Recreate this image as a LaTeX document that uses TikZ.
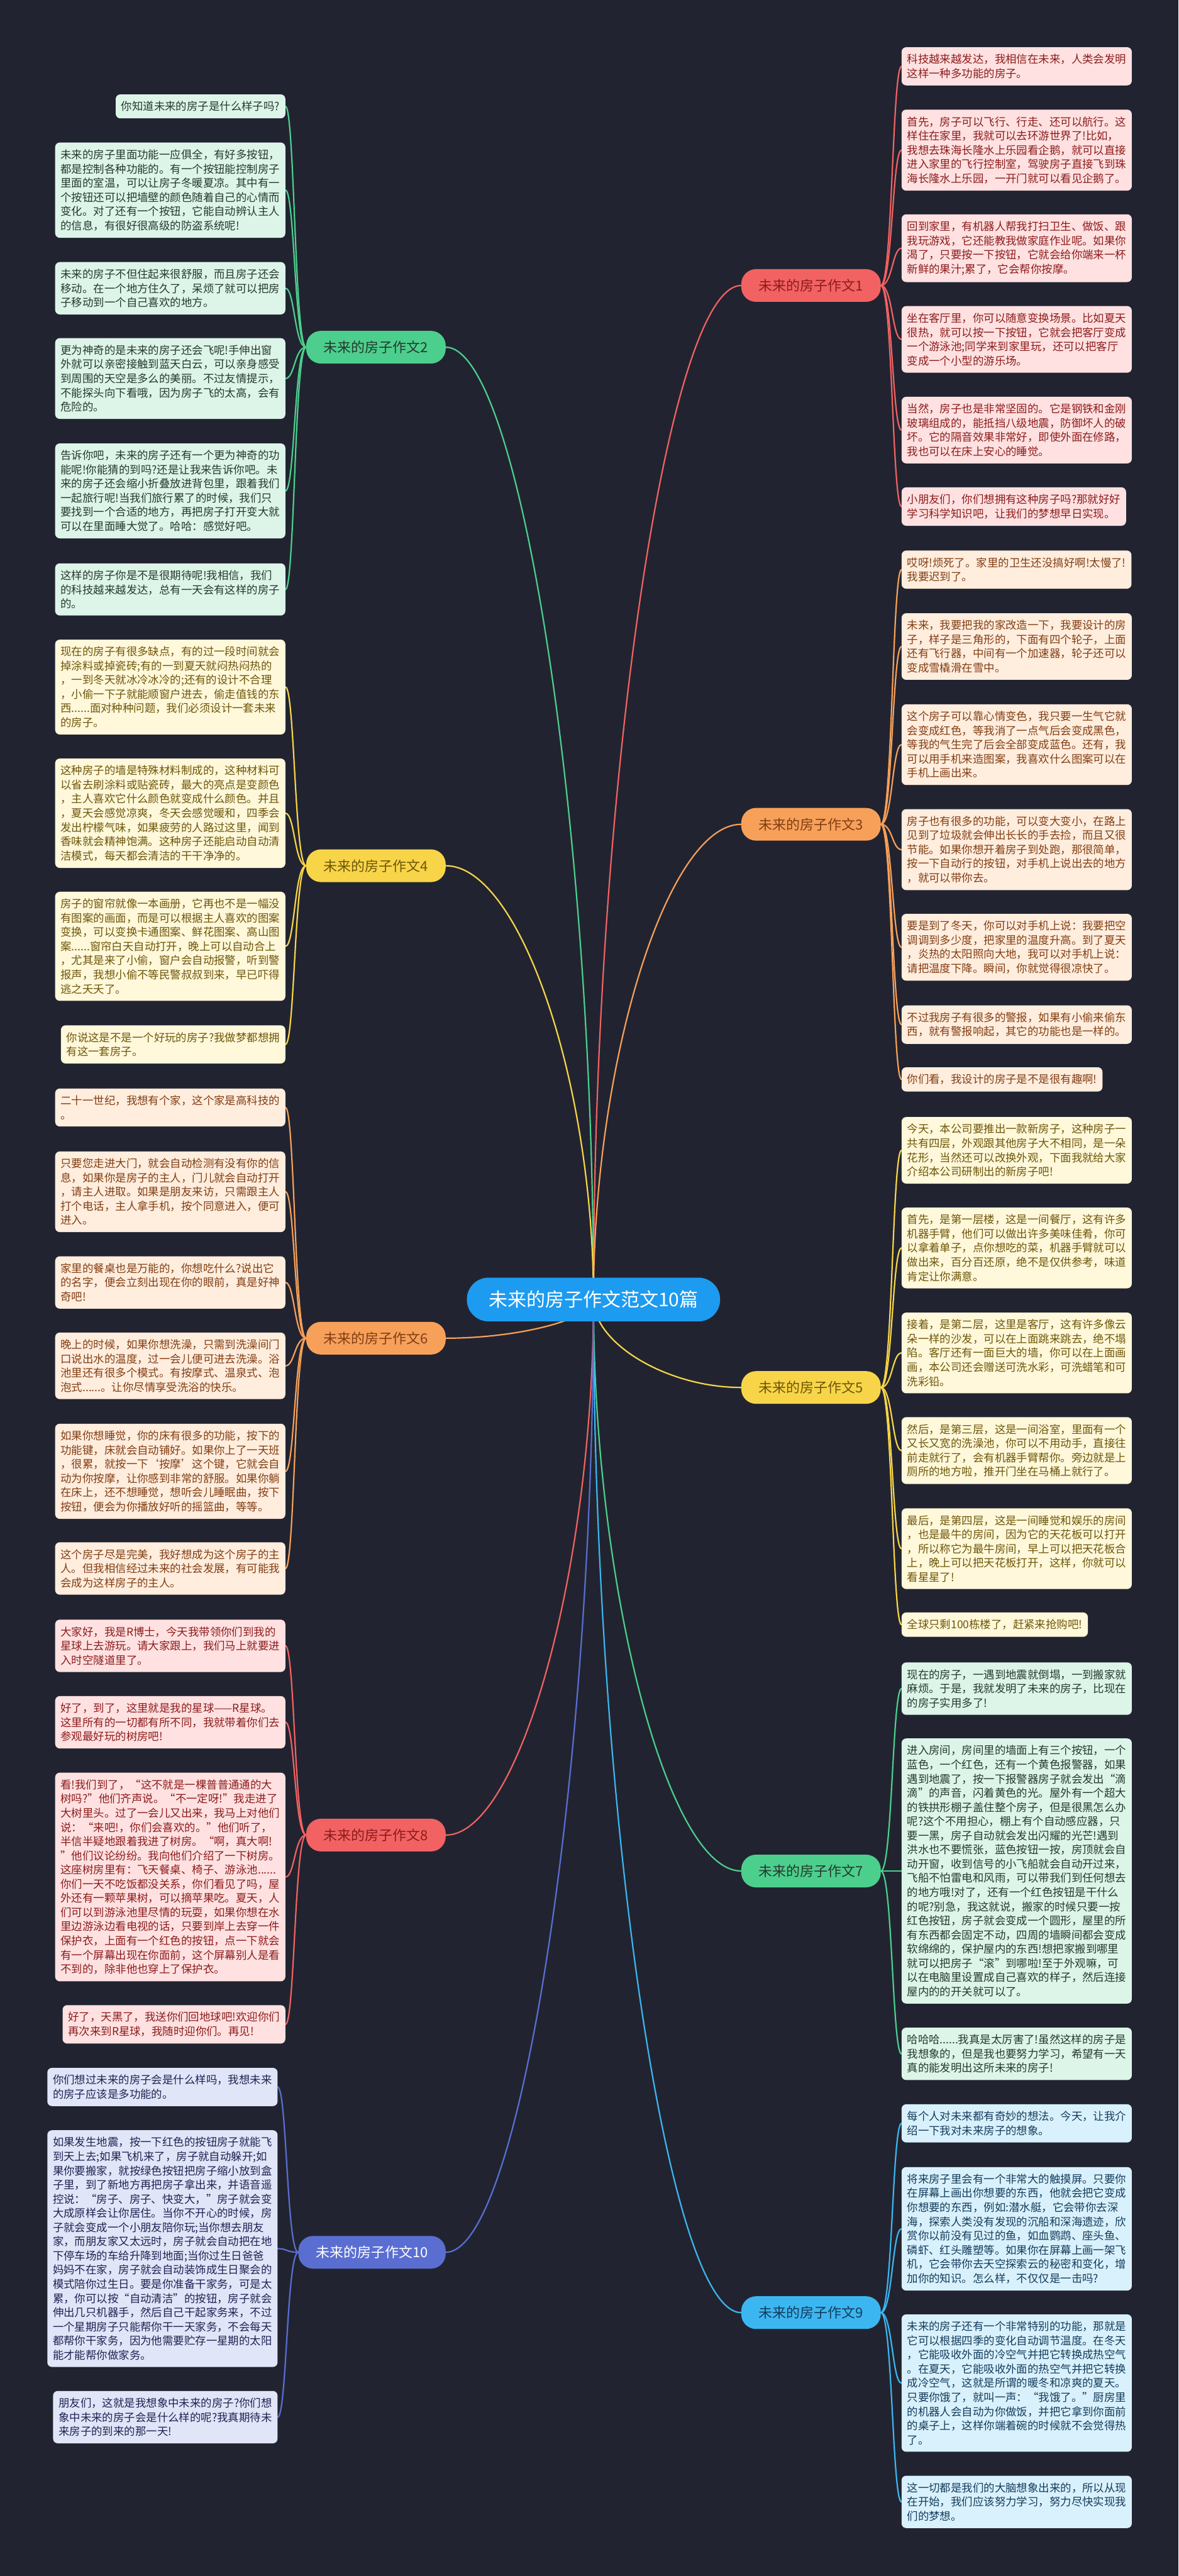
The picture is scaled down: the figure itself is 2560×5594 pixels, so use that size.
\documentclass[tikz,border=0pt]{standalone}
\usepackage{fontspec}
\setmainfont{Noto Sans CJK SC}
\usetikzlibrary{calc}
\pgfdeclarelayer{bglayer}
\pgfdeclarelayer{lines}
\pgfsetlayers{bglayer,lines,main}
\definecolor{bgcol}{RGB}{33,36,48}
\definecolor{rootcol}{RGB}{29,155,240}
\definecolor{gMain}{RGB}{76,207,141}
\definecolor{gLeaf}{RGB}{221,245,233}
\definecolor{gTxt}{RGB}{38,56,46}
\definecolor{rMain}{RGB}{242,98,98}
\definecolor{rLeaf}{RGB}{255,225,225}
\definecolor{rTxt}{RGB}{140,28,28}
\definecolor{oMain}{RGB}{247,160,90}
\definecolor{oLeaf}{RGB}{255,237,222}
\definecolor{oTxt}{RGB}{130,62,18}
\definecolor{yMain}{RGB}{248,213,72}
\definecolor{yLeaf}{RGB}{255,248,218}
\definecolor{yTxt}{RGB}{110,86,10}
\definecolor{cMain}{RGB}{60,182,240}
\definecolor{cLeaf}{RGB}{217,241,252}
\definecolor{cTxt}{RGB}{20,60,92}
\definecolor{iMain}{RGB}{90,110,210}
\definecolor{iLeaf}{RGB}{225,229,248}
\definecolor{iTxt}{RGB}{30,36,82}
\tikzset{
  leaf/.style={rounded corners=10pt, inner xsep=12pt, inner ysep=15pt, align=left, font=\fontsize{23.8}{30.8}\selectfont},
  gleaf/.style={leaf, fill=gLeaf, text=gTxt},
  rleaf/.style={leaf, fill=rLeaf, text=rTxt},
  oleaf/.style={leaf, fill=oLeaf, text=oTxt},
  yleaf/.style={leaf, fill=yLeaf, text=yTxt},
  cleaf/.style={leaf, fill=cLeaf, text=cTxt},
  ileaf/.style={leaf, fill=iLeaf, text=iTxt},
  lab/.style={rounded corners=32pt, minimum width=303pt, minimum height=71pt, inner sep=0pt, font=\fontsize{30}{36}\selectfont},
  rootnode/.style={fill=rootcol, text=white, rounded corners=47pt, minimum width=550pt, minimum height=95pt, inner sep=0pt, font=\fontsize{41}{48}\selectfont},
  conn/.style={line width=3pt, line cap=round},
}
\newcommand\LeafL[3]{\draw[conn,#1] (#2.west) .. controls ([xshift=-25pt]#2.west) and ([xshift=20pt]#3.east) .. (#3.east);}
\newcommand\LeafR[3]{\draw[conn,#1] (#2.east) .. controls ([xshift=25pt]#2.east) and ([xshift=-20pt]#3.west) .. (#3.west);}
\newcommand\MainC[2]{\draw[conn,#1] (root.center) .. controls ($(root.center)!0.5!(root.center |- #2)$) and ($(#2)!0.5!(#2 -| root.center)$) .. (#2);}
\begin{document}
\begin{tikzpicture}[x=1pt,y=-1pt]
\useasboundingbox (0,0) rectangle (2560,5594);
\begin{pgfonlayer}{bglayer}
\fill[bgcol] (0,0) rectangle (2560,5594);
\end{pgfonlayer}

\node[rootnode] (root) at (1289,2822) {未来的房子作文范文10篇};

% branch labels
\node[lab, fill=rMain, text=rTxt] (b1) at (1761.5,620) {未来的房子作文1};
\node[lab, fill=gMain, text=gTxt] (b2) at (816.5,754) {未来的房子作文2};
\node[lab, fill=oMain, text=oTxt] (b3) at (1761.5,1790) {未来的房子作文3};
\node[lab, fill=yMain, text=yTxt] (b4) at (816.5,1880) {未来的房子作文4};
\node[lab, fill=yMain, text=yTxt] (b5) at (1761.5,3013) {未来的房子作文5};
\node[lab, fill=oMain, text=oTxt] (b6) at (816.5,2906) {未来的房子作文6};
\node[lab, fill=gMain, text=gTxt] (b7) at (1761.5,4063) {未来的房子作文7};
\node[lab, fill=rMain, text=rTxt] (b8) at (816.5,3985) {未来的房子作文8};
\node[lab, fill=cMain, text=cTxt] (b9) at (1761.5,5022) {未来的房子作文9};
\node[lab, fill=iMain, text=white, minimum width=320pt] (b10) at (808,4891) {未来的房子作文10};

% ---------- branch 2 (left, green)
\node[gleaf, anchor=east] (l2a) at (620,231) {你知道未来的房子是什么样子吗?};
\node[gleaf, anchor=east] (l2b) at (620,413) {未来的房子里面功能一应俱全，有好多按钮，\\都是控制各种功能的。有一个按钮能控制房子\\里面的室温，可以让房子冬暖夏凉。其中有一\\个按钮还可以把墙壁的颜色随着自己的心情而\\变化。对了还有一个按钮，它能自动辨认主人\\的信息，有很好很高级的防盗系统呢!};
\node[gleaf, anchor=east] (l2c) at (620,626) {未来的房子不但住起来很舒服，而且房子还会\\移动。在一个地方住久了，呆烦了就可以把房\\子移动到一个自己喜欢的地方。};
\node[gleaf, anchor=east] (l2d) at (620,822) {更为神奇的是未来的房子还会飞呢!手伸出窗\\外就可以亲密接触到蓝天白云，可以亲身感受\\到周围的天空是多么的美丽。不过友情提示，\\不能探头向下看哦，因为房子飞的太高，会有\\危险的。};
\node[gleaf, anchor=east] (l2e) at (620,1066) {告诉你吧，未来的房子还有一个更为神奇的功\\能呢!你能猜的到吗?还是让我来告诉你吧。未\\来的房子还会缩小折叠放进背包里，跟着我们\\一起旅行呢!当我们旅行累了的时候，我们只\\要找到一个合适的地方，再把房子打开变大就\\可以在里面睡大觉了。哈哈：感觉好吧。};
\node[gleaf, anchor=east] (l2f) at (620,1280) {这样的房子你是不是很期待呢!我相信，我们\\的科技越来越发达，总有一天会有这样的房子\\的。};

% ---------- branch 4 (left, yellow)
\node[yleaf, anchor=east] (l4a) at (620,1492) {现在的房子有很多缺点，有的过一段时间就会\\掉涂料或掉瓷砖;有的一到夏天就闷热闷热的\\，一到冬天就冰冷冰冷的;还有的设计不合理\\，小偷一下子就能顺窗户进去，偷走值钱的东\\西......面对种种问题，我们必须设计一套未来\\的房子。};
\node[yleaf, anchor=east] (l4b) at (620,1766) {这种房子的墙是特殊材料制成的，这种材料可\\以省去刷涂料或贴瓷砖，最大的亮点是变颜色\\，主人喜欢它什么颜色就变成什么颜色。并且\\，夏天会感觉凉爽，冬天会感觉暖和，四季会\\发出柠檬气味，如果疲劳的人路过这里，闻到\\香味就会精神饱满。这种房子还能启动自动清\\洁模式，每天都会清洁的干干净净的。};
\node[yleaf, anchor=east] (l4c) at (620,2055) {房子的窗帘就像一本画册，它再也不是一幅没\\有图案的画面，而是可以根据主人喜欢的图案\\变换，可以变换卡通图案、鲜花图案、高山图\\案......窗帘白天自动打开，晚上可以自动合上\\，尤其是来了小偷，窗户会自动报警，听到警\\报声，我想小偷不等民警叔叔到来，早已吓得\\逃之夭夭了。};
\node[yleaf, anchor=east] (l4d) at (620,2268) {你说这是不是一个好玩的房子?我做梦都想拥\\有这一套房子。};

% ---------- branch 6 (left, orange)
\node[oleaf, anchor=east] (l6a) at (620,2405) {二十一世纪，我想有个家，这个家是高科技的\\。};
\node[oleaf, anchor=east] (l6b) at (620,2588) {只要您走进大门，就会自动检测有没有你的信\\息，如果你是房子的主人，门儿就会自动打开\\，请主人进取。如果是朋友来访，只需跟主人\\打个电话，主人拿手机，按个同意进入，便可\\进入。};
\node[oleaf, anchor=east] (l6c) at (620,2785) {家里的餐桌也是万能的，你想吃什么?说出它\\的名字，便会立刻出现在你的眼前，真是好神\\奇吧!};
\node[oleaf, anchor=east] (l6d) at (620,2966) {晚上的时候，如果你想洗澡，只需到洗澡间门\\口说出水的温度，过一会儿便可进去洗澡。浴\\池里还有很多个模式。有按摩式、温泉式、泡\\泡式......。让你尽情享受洗浴的快乐。};
\node[oleaf, anchor=east] (l6e) at (620,3195) {如果你想睡觉，你的床有很多的功能，按下的\\功能键，床就会自动铺好。如果你上了一天班\\，很累，就按一下‘按摩’这个键，它就会自\\动为你按摩，让你感到非常的舒服。如果你躺\\在床上，还不想睡觉，想听会儿睡眠曲，按下\\按钮，便会为你播放好听的摇篮曲，等等。};
\node[oleaf, anchor=east] (l6f) at (620,3406) {这个房子尽是完美，我好想成为这个房子的主\\人。但我相信经过未来的社会发展，有可能我\\会成为这样房子的主人。};

% ---------- branch 8 (left, red)
\node[rleaf, anchor=east] (l8a) at (620,3574) {大家好，我是R博士，今天我带领你们到我的\\星球上去游玩。请大家跟上，我们马上就要进\\入时空隧道里了。};
\node[rleaf, anchor=east] (l8b) at (620,3740) {好了，到了，这里就是我的星球——R星球。\\这里所有的一切都有所不同，我就带着你们去\\参观最好玩的树房吧!};
\node[rleaf, anchor=east] (l8c) at (620,4076) {看!我们到了，“这不就是一棵普普通通的大\\树吗?”他们齐声说。“不一定呀!”我走进了\\大树里头。过了一会儿又出来，我马上对他们\\说：“来吧!，你们会喜欢的。”他们听了，\\半信半疑地跟着我进了树房。“啊，真大啊!\\”他们议论纷纷。我向他们介绍了一下树房。\\这座树房里有：飞天餐桌、椅子、游泳池......\\你们一天不吃饭都没关系，你们看见了吗，屋\\外还有一颗苹果树，可以摘苹果吃。夏天，人\\们可以到游泳池里尽情的玩耍，如果你想在水\\里边游泳边看电视的话，只要到岸上去穿一件\\保护衣，上面有一个红色的按钮，点一下就会\\有一个屏幕出现在你面前，这个屏幕别人是看\\不到的，除非他也穿上了保护衣。};
\node[rleaf, anchor=east] (l8d) at (620,4396) {好了，天黑了，我送你们回地球吧!欢迎你们\\再次来到R星球，我随时迎你们。再见!};

% ---------- branch 10 (left, indigo)
\node[ileaf, anchor=east] (l10a) at (603,4532) {你们想过未来的房子会是什么样吗，我想未来\\的房子应该是多功能的。};
\node[ileaf, anchor=east] (l10b) at (603,4883) {如果发生地震，按一下红色的按钮房子就能飞\\到天上去;如果飞机来了，房子就自动躲开;如\\果你要搬家，就按绿色按钮把房子缩小放到盒\\子里，到了新地方再把房子拿出来，并语音遥\\控说：“房子、房子、快变大，”房子就会变\\大成原样会让你居住。当你不开心的时候，房\\子就会变成一个小朋友陪你玩;当你想去朋友\\家，而朋友家又太远时，房子就会自动把在地\\下停车场的车给升降到地面;当你过生日爸爸\\妈妈不在家，房子就会自动装饰成生日聚会的\\模式陪你过生日。要是你准备干家务，可是太\\累，你可以按“自动清洁”的按钮，房子就会\\伸出几只机器手，然后自己干起家务来，不过\\一个星期房子只能帮你干一天家务，不会每天\\都帮你干家务，因为他需要贮存一星期的太阳\\能才能帮你做家务。};
\node[ileaf, anchor=east] (l10c) at (603,5249) {朋友们，这就是我想象中未来的房子?你们想\\象中未来的房子会是什么样的呢?我真期待未\\来房子的到来的那一天!};

% ---------- branch 1 (right, red)
\node[rleaf, anchor=west] (r1a) at (1958,144) {科技越来越发达，我相信在未来，人类会发明\\这样一种多功能的房子。};
\node[rleaf, anchor=west] (r1b) at (1958,326) {首先，房子可以飞行、行走、还可以航行。这\\样住在家里，我就可以去环游世界了!比如，\\我想去珠海长隆水上乐园看企鹅，就可以直接\\进入家里的飞行控制室，驾驶房子直接飞到珠\\海长隆水上乐园，一开门就可以看见企鹅了。};
\node[rleaf, anchor=west] (r1c) at (1958,539) {回到家里，有机器人帮我打扫卫生、做饭、跟\\我玩游戏，它还能教我做家庭作业呢。如果你\\渴了，只要按一下按钮，它就会给你端来一杯\\新鲜的果汁;累了，它会帮你按摩。};
\node[rleaf, anchor=west] (r1d) at (1958,737) {坐在客厅里，你可以随意变换场景。比如夏天\\很热，就可以按一下按钮，它就会把客厅变成\\一个游泳池;同学来到家里玩，还可以把客厅\\变成一个小型的游乐场。};
\node[rleaf, anchor=west] (r1e) at (1958,934) {当然，房子也是非常坚固的。它是钢铁和金刚\\玻璃组成的，能抵挡八级地震，防御坏人的破\\坏。它的隔音效果非常好，即使外面在修路，\\我也可以在床上安心的睡觉。};
\node[rleaf, anchor=west] (r1f) at (1958,1100) {小朋友们，你们想拥有这种房子吗?那就好好\\学习科学知识吧，让我们的梦想早日实现。};

% ---------- branch 3 (right, orange)
\node[oleaf, anchor=west] (r3a) at (1958,1237) {哎呀!烦死了。家里的卫生还没搞好啊!太慢了!\\我要迟到了。};
\node[oleaf, anchor=west] (r3b) at (1958,1404) {未来，我要把我的家改造一下，我要设计的房\\子，样子是三角形的，下面有四个轮子，上面\\还有飞行器，中间有一个加速器，轮子还可以\\变成雪橇滑在雪中。};
\node[oleaf, anchor=west] (r3c) at (1958,1617) {这个房子可以靠心情变色，我只要一生气它就\\会变成红色，等我消了一点气后会变成黑色，\\等我的气生完了后会全部变成蓝色。还有，我\\可以用手机来造图案，我喜欢什么图案可以在\\手机上画出来。};
\node[oleaf, anchor=west] (r3d) at (1958,1845) {房子也有很多的功能，可以变大变小，在路上\\见到了垃圾就会伸出长长的手去捡，而且又很\\节能。如果你想开着房子到处跑，那很简单，\\按一下自动行的按钮，对手机上说出去的地方\\，就可以带你去。};
\node[oleaf, anchor=west] (r3e) at (1958,2057) {要是到了冬天，你可以对手机上说：我要把空\\调调到多少度，把家里的温度升高。到了夏天\\，炎热的太阳照向大地，我可以对手机上说：\\请把温度下降。瞬间，你就觉得很凉快了。};
\node[oleaf, anchor=west] (r3f) at (1958,2225) {不过我房子有很多的警报，如果有小偷来偷东\\西，就有警报响起，其它的功能也是一样的。};
\node[oleaf, anchor=west] (r3g) at (1958,2344) {你们看，我设计的房子是不是很有趣啊!};

% ---------- branch 5 (right, yellow)
\node[yleaf, anchor=west] (r5a) at (1958,2498) {今天，本公司要推出一款新房子，这种房子一\\共有四层，外观跟其他房子大不相同，是一朵\\花形，当然还可以改换外观，下面我就给大家\\介绍本公司研制出的新房子吧!};
\node[yleaf, anchor=west] (r5b) at (1958,2710) {首先，是第一层楼，这是一间餐厅，这有许多\\机器手臂，他们可以做出许多美味佳肴，你可\\以拿着单子，点你想吃的菜，机器手臂就可以\\做出来，百分百还原，绝不是仅供参考，味道\\肯定让你满意。};
\node[yleaf, anchor=west] (r5c) at (1958,2938) {接着，是第二层，这里是客厅，这有许多像云\\朵一样的沙发，可以在上面跳来跳去，绝不塌\\陷。客厅还有一面巨大的墙，你可以在上面画\\画，本公司还会赠送可洗水彩，可洗蜡笔和可\\洗彩铅。};
\node[yleaf, anchor=west] (r5d) at (1958,3150) {然后，是第三层，这是一间浴室，里面有一个\\又长又宽的洗澡池，你可以不用动手，直接往\\前走就行了，会有机器手臂帮你。旁边就是上\\厕所的地方啦，推开门坐在马桶上就行了。};
\node[yleaf, anchor=west] (r5e) at (1958,3363) {最后，是第四层，这是一间睡觉和娱乐的房间\\，也是最牛的房间，因为它的天花板可以打开\\，所以称它为最牛房间，早上可以把天花板合\\上，晚上可以把天花板打开，这样，你就可以\\看星星了!};
\node[yleaf, anchor=west] (r5f) at (1958,3528) {全球只剩100栋楼了，赶紧来抢购吧!};

% ---------- branch 7 (right, green)
\node[gleaf, anchor=west] (r7a) at (1958,3667) {现在的房子，一遇到地震就倒塌，一到搬家就\\麻烦。于是，我就发明了未来的房子，比现在\\的房子实用多了!};
\node[gleaf, anchor=west] (r7b) at (1958,4063) {进入房间，房间里的墙面上有三个按钮，一个\\蓝色，一个红色，还有一个黄色报警器，如果\\遇到地震了，按一下报警器房子就会发出“滴\\滴”的声音，闪着黄色的光。屋外有一个超大\\的铁拱形棚子盖住整个房子，但是很黑怎么办\\呢?这个不用担心，棚上有个自动感应器，只\\要一黑，房子自动就会发出闪耀的光芒!遇到\\洪水也不要慌张，蓝色按钮一按，房顶就会自\\动开窗，收到信号的小飞船就会自动开过来，\\飞船不怕雷电和风雨，可以带我们到任何想去\\的地方哦!对了，还有一个红色按钮是干什么\\的呢?别急，我这就说，搬家的时候只要一按\\红色按钮，房子就会变成一个圆形，屋里的所\\有东西都会固定不动，四周的墙瞬间都会变成\\软绵绵的，保护屋内的东西!想把家搬到哪里\\就可以把房子“滚”到哪啦!至于外观嘛，可\\以在电脑里设置成自己喜欢的样子，然后连接\\屋内的的开关就可以了。};
\node[gleaf, anchor=west] (r7c) at (1958,4460) {哈哈哈......我真是太厉害了!虽然这样的房子是\\我想象的，但是我也要努力学习，希望有一天\\真的能发明出这所未来的房子!};

% ---------- branch 9 (right, light blue)
\node[cleaf, anchor=west] (r9a) at (1958,4611) {每个人对未来都有奇妙的想法。今天，让我介\\绍一下我对未来房子的想象。};
\node[cleaf, anchor=west] (r9b) at (1958,4840) {将来房子里会有一个非常大的触摸屏。只要你\\在屏幕上画出你想要的东西，他就会把它变成\\你想要的东西，例如:潜水艇，它会带你去深\\海，探索人类没有发现的沉船和深海遗迹，欣\\赏你以前没有见过的鱼，如血鹦鹉、座头鱼、\\磷虾、红头雕塑等。如果你在屏幕上画一架飞\\机，它会带你去天空探索云的秘密和变化，增\\加你的知识。怎么样，不仅仅是一击吗?};
\node[cleaf, anchor=west] (r9c) at (1958,5175) {未来的房子还有一个非常特别的功能，那就是\\它可以根据四季的变化自动调节温度。在冬天\\，它能吸收外面的冷空气并把它转换成热空气\\。在夏天，它能吸收外面的热空气并把它转换\\成冷空气，这就是所谓的暖冬和凉爽的夏天。\\只要你饿了，就叫一声：“我饿了。”厨房里\\的机器人会自动为你做饭，并把它拿到你面前\\的桌子上，这样你端着碗的时候就不会觉得热\\了。};
\node[cleaf, anchor=west] (r9d) at (1958,5433) {这一切都是我们的大脑想象出来的，所以从现\\在开始，我们应该努力学习，努力尽快实现我\\们的梦想。};

\begin{pgfonlayer}{lines}
% main connectors
\MainC{rMain}{b1.west}
\MainC{gMain}{b2.east}
\MainC{oMain}{b3.west}
\MainC{yMain}{b4.east}
\MainC{yMain}{b5.west}
\MainC{oMain}{b6.east}
\MainC{gMain}{b7.west}
\MainC{rMain}{b8.east}
\MainC{cMain}{b9.west}
\MainC{iMain}{b10.east}
% leaf connectors
\foreach \n in {l2a,l2b,l2c,l2d,l2e,l2f}{\LeafL{gMain}{b2}{\n}}
\foreach \n in {l4a,l4b,l4c,l4d}{\LeafL{yMain}{b4}{\n}}
\foreach \n in {l6a,l6b,l6c,l6d,l6e,l6f}{\LeafL{oMain}{b6}{\n}}
\foreach \n in {l8a,l8b,l8c,l8d}{\LeafL{rMain}{b8}{\n}}
\foreach \n in {l10a,l10b,l10c}{\LeafL{iMain}{b10}{\n}}
\foreach \n in {r1a,r1b,r1c,r1d,r1e,r1f}{\LeafR{rMain}{b1}{\n}}
\foreach \n in {r3a,r3b,r3c,r3d,r3e,r3f,r3g}{\LeafR{oMain}{b3}{\n}}
\foreach \n in {r5a,r5b,r5c,r5d,r5e,r5f}{\LeafR{yMain}{b5}{\n}}
\foreach \n in {r7a,r7b,r7c}{\LeafR{gMain}{b7}{\n}}
\foreach \n in {r9a,r9b,r9c,r9d}{\LeafR{cMain}{b9}{\n}}
\end{pgfonlayer}
\end{tikzpicture}
\end{document}
